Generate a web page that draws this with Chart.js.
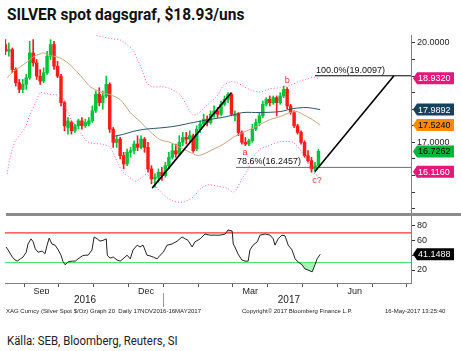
<!DOCTYPE html>
<html>
<head>
<meta charset="utf-8">
<script src="https://cdn.jsdelivr.net/npm/chart.js@4.4.1/dist/chart.umd.min.js"></script>
<style>
  body { margin: 0; background: #fff; width: 461px; height: 351px; overflow: hidden; position: relative; }
  #title { position: absolute; left: 7px; top: 4px; font: bold 17px "Roboto", sans-serif; color: #111; white-space: nowrap; transform: scaleX(0.91); transform-origin: 0 0; }
  #main { position: absolute; left: 0; top: 30px; }
  #sep { position: absolute; left: 6px; top: 213px; width: 455px; height: 3px; background: #8c8c8c; }
  #rsi { position: absolute; left: 0; top: 216px; }
  .foot { position: absolute; top: 308px; font: 6px "Liberation Sans", sans-serif; color: #222; white-space: pre; }
  #source { position: absolute; left: 7px; top: 332px; font: 13.5px "Roboto", sans-serif; color: #222; white-space: nowrap; transform: scaleX(0.845); transform-origin: 0 0; }
</style>
</head>
<body>
<div id="title">SILVER spot dagsgraf, $18.93/uns</div>
<canvas id="main" width="461" height="185"></canvas>
<div id="sep"></div>
<canvas id="rsi" width="461" height="96"></canvas>
<div class="foot" style="left:6px">XAG Curncy (Silver Spot $/Oz) Graph 20  Daily 17NOV2016-16MAY2017</div>
<div class="foot" style="left:242px">Copyright© 2017 Bloomberg Finance L.P.</div>
<div class="foot" style="left:385px">16-May-2017 13:25:40</div>
<div id="source">Källa: SEB, Bloomberg, Reuters, SI</div>
<script>
// x axis is in months, 0 = 1 Sep 2016
const xMin = -0.55;
const xMax = 11.12;
const monthCenters = [-0.5, 0.5, 1.5, 2.5, 3.5, 4.5, 5.5, 6.5, 7.5, 8.5, 9.5, 10.5];
const monthLabelPos = [0.5, 3.5, 6.5, 9.5];
const monthLabels = ["Sep", "Dec", "Mar", "Jun"];
const yearLabelPos = [1.75, 7.61];
const yearLabels = ["2016", "2017"];
const yearBreak = 4;

// daily candles (sampled every ~2 trading days)
const candleStart = -0.54;
const candleStep = 0.1;
const opens = [19.95, 19.75, 19.8, 19.2, 18.8, 18.6, 18.75, 18.95, 19.7, 19.4,
  19.0, 18.85, 19.1, 19.6, 19.95, 19.3, 19.0, 18.2, 17.45, 17.6,
  17.35, 17.5, 17.65, 17.5, 17.55, 17.65, 17.95, 18.45, 18.2, 18.4,
  18.75, 17.4, 17.0, 17.1, 16.6, 16.35, 16.7, 16.75, 16.95, 16.85,
  17.1, 16.85, 16.2, 15.9, 15.95, 16.1, 16.0, 16.3, 16.55, 16.75,
  16.65, 17.0, 17.15, 17.1, 17.2, 16.8, 17.4, 17.55, 17.7, 17.6,
  17.85, 17.95, 17.85, 18.15, 18.3, 18.45, 17.8, 17.85, 17.3, 17.0,
  16.95, 17.05, 17.4, 17.6, 17.8, 18.15, 18.3, 18.2, 18.35, 18.2,
  18.4, 18.6, 18.1, 17.9, 17.5, 17.3, 17.0, 16.6, 16.45, 16.2, 16.3];
const highs = [20.1, 20.0, 19.85, 19.25, 18.9, 18.9, 19.05, 20.05, 20.1, 19.5,
  19.2, 19.25, 19.75, 20.1, 20.05, 19.45, 19.05, 18.25, 17.75, 17.65,
  17.55, 17.7, 17.75, 17.7, 17.75, 18.1, 18.55, 18.65, 18.55, 19.0,
  18.8, 17.45, 17.2, 17.15, 16.7, 16.8, 16.85, 17.05, 17.2, 17.2,
  17.15, 17.0, 16.3, 16.05, 16.2, 16.25, 16.4, 16.7, 16.95, 16.95,
  17.2, 17.3, 17.3, 17.35, 17.25, 17.5, 17.65, 17.85, 17.8, 17.95,
  18.1, 18.05, 18.25, 18.4, 18.5, 18.5, 17.95, 17.9, 17.35, 17.15,
  17.1, 17.55, 17.7, 17.9, 18.25, 18.35, 18.4, 18.4, 18.4, 18.5,
  18.7, 18.65, 18.15, 17.95, 17.55, 17.35, 17.05, 16.75, 16.55, 16.4, 16.8];
const lows = [19.65, 19.6, 19.1, 18.7, 18.5, 18.5, 18.6, 18.9, 19.3, 18.9,
  18.75, 18.8, 19.05, 19.5, 19.2, 18.95, 18.1, 17.35, 17.25, 17.25,
  17.3, 17.4, 17.4, 17.45, 17.5, 17.6, 17.9, 18.1, 18.0, 18.35,
  17.3, 16.85, 16.85, 16.5, 16.2, 16.3, 16.55, 16.65, 16.75, 16.8,
  16.7, 16.1, 15.75, 15.65, 15.8, 15.85, 15.95, 16.2, 16.5, 16.55,
  16.6, 16.9, 16.95, 17.0, 16.7, 16.75, 17.3, 17.5, 17.5, 17.55,
  17.75, 17.75, 17.8, 18.1, 18.2, 17.8, 17.65, 17.2, 16.95, 16.9,
  16.9, 17.0, 17.35, 17.5, 17.75, 18.1, 18.1, 18.15, 17.8, 18.15,
  18.35, 18.0, 17.85, 17.45, 17.25, 16.95, 16.55, 16.4, 16.1, 16.1, 16.25];
const closes = [19.75, 19.8, 19.2, 18.8, 18.6, 18.75, 18.95, 19.7, 19.4, 19.0,
  18.85, 19.1, 19.6, 19.95, 19.3, 19.0, 18.2, 17.5, 17.65, 17.35,
  17.5, 17.65, 17.5, 17.6, 17.65, 17.95, 18.45, 18.2, 18.4, 18.75,
  17.4, 17.0, 17.1, 16.6, 16.35, 16.7, 16.75, 16.95, 16.85, 17.1,
  16.85, 16.2, 15.9, 15.95, 16.1, 16.0, 16.3, 16.55, 16.75, 16.65,
  17.0, 17.15, 17.1, 17.2, 16.75, 17.4, 17.55, 17.7, 17.6, 17.85,
  17.95, 17.85, 18.15, 18.3, 18.45, 17.85, 17.85, 17.3, 17.0, 16.95,
  17.05, 17.4, 17.6, 17.8, 18.15, 18.3, 18.2, 18.35, 18.2, 18.4,
  18.6, 18.1, 17.9, 17.5, 17.3, 17.0, 16.6, 16.45, 16.2, 16.3, 16.73];

// [month, value]
const bbUpper = [[2.08, 20.22], [2.27, 20.18], [2.56, 20.12], [2.76, 20.09], [2.96, 19.95], [3.13, 19.79],
  [3.25, 19.5], [3.33, 19.34], [3.42, 19.1], [3.53, 18.8], [3.68, 18.68], [3.97, 18.68], [4.2, 18.62],
  [4.48, 18.44], [4.68, 18.1], [4.83, 17.85], [4.97, 17.85], [5.14, 18.0], [5.34, 18.2], [5.55, 18.4],
  [5.72, 18.7], [5.92, 18.83], [6.12, 18.8], [6.29, 18.7], [6.49, 18.59], [6.78, 18.52], [7.07, 18.62],
  [7.36, 18.65], [7.64, 18.72], [7.93, 18.85], [8.16, 18.93], [8.3, 18.97], [8.45, 18.93]];
const bbLower = [[-0.49, 16.04], [-0.4, 16.55], [-0.26, 17.03], [-0.11, 17.24], [0.03, 17.45], [0.17, 17.84],
  [0.37, 18.29], [0.46, 18.5], [0.66, 18.47], [0.83, 18.44], [1.09, 18.4], [1.18, 18.08], [1.26, 17.9],
  [1.38, 17.63], [1.61, 17.3], [1.81, 17.03], [1.98, 16.97], [2.27, 16.94], [2.47, 16.85], [2.67, 16.43],
  [2.82, 16.13], [2.99, 15.98], [3.19, 15.83], [3.39, 15.95], [3.53, 16.04], [3.68, 15.83], [3.85, 15.59],
  [4.05, 15.38], [4.28, 15.23], [4.57, 15.2], [4.86, 15.35], [5.06, 15.59], [5.29, 15.72], [5.55, 15.68],
  [5.83, 15.62], [6.01, 15.5], [6.12, 15.62], [6.26, 15.9], [6.41, 16.13], [6.58, 16.55], [6.78, 16.79],
  [6.98, 16.88], [7.27, 17.0], [7.56, 17.03], [7.73, 17.0], [7.93, 16.79], [8.07, 16.55], [8.22, 16.25],
  [8.36, 16.04], [8.45, 16.0]];
const ma50 = [[-0.49, 18.95], [-0.32, 19.13], [-0.11, 19.28], [0.09, 19.43], [0.26, 19.58], [0.46, 19.67],
  [0.55, 19.7], [0.75, 19.62], [0.95, 19.58], [1.12, 19.5], [1.32, 19.34], [1.52, 19.13], [1.7, 18.92],
  [1.9, 18.68], [2.18, 18.53], [2.47, 18.44], [2.76, 18.29], [3.05, 17.9], [3.33, 17.63], [3.62, 17.33],
  [3.91, 17.08], [4.2, 17.0], [4.48, 16.85], [4.77, 16.7], [4.97, 16.61], [5.14, 16.64], [5.43, 16.79],
  [5.72, 16.94], [6.01, 17.15], [6.29, 17.3], [6.49, 17.39], [6.78, 17.54], [7.07, 17.69], [7.36, 17.78],
  [7.64, 17.9], [7.84, 17.93], [8.02, 17.84], [8.28, 17.69], [8.51, 17.52]];
const ma200 = [[2.56, 17.18], [2.84, 17.24], [3.13, 17.33], [3.42, 17.39], [3.71, 17.42], [4.05, 17.45],
  [4.4, 17.5], [4.86, 17.6], [5.34, 17.69], [5.83, 17.78], [6.29, 17.9], [6.78, 17.9], [7.36, 17.93],
  [7.73, 18.02], [8.13, 18.05], [8.51, 17.99]];
const trendUp = [[3.68, 15.62], [5.95, 18.5]];
const projection = [[8.36, 16.12], [10.63, 19.01]];
const fibLevels = [19.0097, 16.2457];
const fibStart = [8.36, 6.09];
const fibTexts = ["100.0%(19.0097)", "78.6%(16.2457)"];
const waveLabels = ["a", "b", "c?"];
const waveX = [6.35, 7.56, 8.42];
const waveY = [16.68, 18.88, 15.84];

const priceTicks = [15, 15.5, 16, 16.5, 17, 17.5, 18, 18.5, 19, 19.5, 20];
const priceAxisLabels = [20, 17];
const tagValues = [18.932, 17.9892, 17.524, 16.7262, 16.116];
const tagFill = ["#e5177b", "#17435a", "#ff8a00", "#00b43c", "#e5177b"];
const tagInk = ["#fff", "#fff", "#000", "#000", "#fff"];

const rsi = [[-0.52, 51], [-0.46, 47], [-0.34, 37.5], [-0.26, 33.5], [-0.2, 32], [-0.11, 35], [-0.03, 37.5],
  [0.06, 44], [0.11, 55], [0.2, 62], [0.26, 58], [0.32, 48.5], [0.4, 44], [0.52, 45.5], [0.6, 42],
  [0.66, 53.5], [0.72, 63], [0.8, 55], [0.89, 53.5], [0.98, 47], [1.06, 40], [1.12, 31], [1.18, 27],
  [1.26, 31], [1.38, 32], [1.47, 32], [1.55, 35], [1.67, 39], [1.75, 40], [1.84, 40], [1.95, 47],
  [2.01, 64.5], [2.1, 62], [2.18, 59], [2.27, 60], [2.36, 62], [2.39, 40], [2.47, 36], [2.56, 37.5],
  [2.67, 33.5], [2.76, 32], [2.84, 35], [2.96, 40], [3.05, 35], [3.13, 47], [3.25, 53.5], [3.33, 51],
  [3.42, 53.5], [3.53, 40], [3.62, 39], [3.71, 37.5], [3.82, 35], [3.91, 40], [4.0, 44], [4.11, 53.5],
  [4.25, 55], [4.4, 59], [4.54, 64.5], [4.63, 62], [4.71, 60], [4.83, 51], [4.91, 58], [5.06, 62],
  [5.2, 68.5], [5.34, 67], [5.49, 67], [5.63, 67], [5.78, 68.5], [5.86, 74], [5.98, 72.5], [6.01, 55],
  [6.06, 51], [6.15, 41.5], [6.26, 33.5], [6.35, 32], [6.44, 32], [6.49, 47], [6.58, 53.5], [6.7, 58],
  [6.78, 67], [6.93, 68.5], [7.07, 67], [7.16, 62], [7.21, 53.5], [7.3, 62], [7.41, 67], [7.5, 66],
  [7.59, 53.5], [7.7, 47], [7.79, 35], [7.87, 31], [7.99, 27], [8.07, 21.5], [8.16, 20], [8.28, 17.5],
  [8.36, 27], [8.42, 35], [8.51, 41.1488]];
const rsiHigh = 70;
const rsiLow = 30;
const rsiTicks = [20, 40, 60, 80];
const rsiAxisLabels = [20, 60, 80];
const rsiLast = 41.1488;

const FONT = '"Liberation Sans", Arial, sans-serif';
const pts = (arr) => arr.map(([x, y]) => ({ x, y }));

const candleTimes = closes.map((c, i) => candleStart + i * candleStep);
const candleColors = closes.map((c, i) => (c >= opens[i] ? "#00c43a" : "#ff1a1a"));
const bodies = closes.map((c, i) => ({ x: candleTimes[i], y: [opens[i], c] }));
const wicks = closes.map((c, i) => ({ x: candleTimes[i], y: [lows[i], highs[i]] }));

// stop the y scales from pushing the plot area in for their end labels
const noPad = (s) => { s.paddingTop = 0; s.paddingBottom = 0; s.width = 50; };

function drawTag(ctx, left, yc, text, bg, fg) {
  const h = 12;
  ctx.beginPath();
  ctx.moveTo(left, yc);
  ctx.lineTo(left + 4, yc - h / 2);
  ctx.lineTo(left + 41, yc - h / 2);
  ctx.lineTo(left + 41, yc + h / 2);
  ctx.lineTo(left + 4, yc + h / 2);
  ctx.closePath();
  ctx.fillStyle = bg;
  ctx.fill();
  ctx.fillStyle = fg;
  ctx.textAlign = "left";
  ctx.textBaseline = "middle";
  ctx.fillText(text, left + 5, yc + 0.5);
}

const mainOverlay = {
  id: "mainOverlay",
  afterDatasetsDraw(chart) {
    const { ctx } = chart;
    const x = chart.scales.x, y = chart.scales.y;
    ctx.save();
    ctx.font = "9px " + FONT;
    ctx.fillStyle = "#111";
    ctx.textAlign = "left";
    ctx.textBaseline = "bottom";
    fibTexts.forEach((t, i) => {
      ctx.fillText(t, x.getPixelForValue(fibStart[i]) + 1, y.getPixelForValue(fibLevels[i]) - 1);
    });
    ctx.fillStyle = "#ff3030";
    ctx.textAlign = "center";
    ctx.textBaseline = "middle";
    waveLabels.forEach((t, i) => {
      ctx.fillText(t, x.getPixelForValue(waveX[i]), y.getPixelForValue(waveY[i]));
    });
    ctx.restore();
  },
  afterDraw(chart) {
    const { ctx, chartArea } = chart;
    const y = chart.scales.y;
    ctx.save();
    ctx.font = "9px " + FONT;
    tagValues.forEach((v, i) => {
      drawTag(ctx, chartArea.right + 2, y.getPixelForValue(v), v.toFixed(4), tagFill[i], tagInk[i]);
    });
    ctx.restore();
  },
};

const rsiOverlay = {
  id: "rsiOverlay",
  afterDraw(chart) {
    const { ctx, chartArea } = chart;
    const y = chart.scales.y, x = chart.scales.x, x2 = chart.scales.x2;
    ctx.save();
    ctx.font = "9px " + FONT;
    drawTag(ctx, chartArea.right + 2, y.getPixelForValue(rsiLast), rsiLast.toFixed(4), "#000", "#fff");
    const bx = Math.round(x.getPixelForValue(yearBreak)) + 0.5;
    ctx.strokeStyle = "#999";
    ctx.lineWidth = 1;
    ctx.beginPath();
    ctx.moveTo(bx, x2.top - 1);
    ctx.lineTo(bx, x2.top + 13);
    ctx.stroke();
    ctx.restore();
  },
};

const lineDefaults = { type: "line", pointRadius: 0, borderWidth: 1, fill: false };

new Chart(document.getElementById("main"), {
  type: "bar",
  data: {
    datasets: [
      { ...lineDefaults, data: pts(trendUp), borderColor: "#000", borderWidth: 1.6, order: 0 },
      { ...lineDefaults, data: pts(projection), borderColor: "#000", borderWidth: 1.6, order: 0 },
      { ...lineDefaults, data: [{ x: fibStart[0], y: fibLevels[0] }, { x: xMax, y: fibLevels[0] }], borderColor: "#000", order: 0 },
      { ...lineDefaults, data: [{ x: fibStart[1], y: fibLevels[1] }, { x: xMax, y: fibLevels[1] }], borderColor: "#6e6e6e", order: 0 },
      { ...lineDefaults, data: pts(ma200), borderColor: "#2b5668", tension: 0.3, order: 1 },
      { ...lineDefaults, data: pts(ma50), borderColor: "#c9a47e", tension: 0.3, order: 1 },
      { ...lineDefaults, data: pts(bbUpper), borderColor: "#ff5aa5", borderDash: [1, 2], tension: 0.3, order: 1 },
      { ...lineDefaults, data: pts(bbLower), borderColor: "#ff5aa5", borderDash: [1, 2], tension: 0.3, order: 1 },
      { type: "bar", data: bodies, backgroundColor: candleColors, barThickness: 2.8, grouped: false, order: 5 },
      { type: "bar", data: wicks, backgroundColor: candleColors, barThickness: 1, grouped: false, order: 6 },
    ],
  },
  options: {
    responsive: false,
    animation: false,
    devicePixelRatio: 1,
    layout: { padding: { left: 5, top: 5, bottom: 3, right: 0 } },
    plugins: { legend: { display: false }, tooltip: { enabled: false } },
    scales: {
      x: { type: "linear", min: xMin, max: xMax, offset: false, display: false },
      y: {
        position: "right",
        min: 14.9,
        max: 20.24,
        afterFit: noPad,
        afterBuildTicks: (s) => { s.ticks = priceTicks.map((v) => ({ value: v })); },
        ticks: {
          autoSkip: false,
          padding: 2,
          color: "#222",
          font: { size: 9, family: FONT },
          callback: (v) => (priceAxisLabels.includes(v) ? v.toFixed(4) : ""),
        },
        grid: { drawOnChartArea: false, drawTicks: true, tickLength: 4, color: "#333" },
        border: { display: true, color: "#808080" },
      },
    },
  },
  plugins: [mainOverlay],
});

new Chart(document.getElementById("rsi"), {
  type: "line",
  data: {
    datasets: [
      { ...lineDefaults, data: pts(rsi), borderWidth: 0, fill: { target: { value: rsiHigh }, above: "rgba(255,160,180,0.7)", below: "rgba(0,0,0,0)" }, order: 3 },
      { ...lineDefaults, data: pts(rsi), borderWidth: 0, fill: { target: { value: rsiLow }, above: "rgba(0,0,0,0)", below: "rgba(140,240,160,0.75)" }, order: 3 },
      { ...lineDefaults, data: [{ x: xMin, y: rsiHigh }, { x: xMax, y: rsiHigh }], borderColor: "#ff0000", order: 2 },
      { ...lineDefaults, data: [{ x: xMin, y: rsiLow }, { x: xMax, y: rsiLow }], borderColor: "#3fe06c", order: 2 },
      { ...lineDefaults, data: pts(rsi), borderColor: "#222", order: 0 },
    ],
  },
  options: {
    responsive: false,
    animation: false,
    devicePixelRatio: 1,
    layout: { padding: { left: 5, top: 0, bottom: 1, right: 0 } },
    plugins: { legend: { display: false }, tooltip: { enabled: false } },
    scales: {
      x: {
        type: "linear", position: "bottom", min: xMin, max: xMax, offset: false,
        afterBuildTicks: (s) => { s.ticks = monthCenters.map((v) => ({ value: v })); },
        afterFit: (s) => { s.height = 11; s.paddingLeft = 0; s.paddingRight = 0; },
        ticks: {
          autoSkip: false, maxRotation: 0, padding: -1, color: "#222",
          font: { size: 9, family: FONT },
          callback: (v) => {
            const k = monthLabelPos.indexOf(v);
            return k >= 0 ? monthLabels[k] : "";
          },
        },
        grid: { offset: true, drawOnChartArea: false, drawTicks: true, tickLength: 4, color: "#555" },
        border: { display: true, color: "#808080" },
      },
      x2: {
        type: "linear", position: "bottom", min: xMin, max: xMax, offset: false,
        afterBuildTicks: (s) => { s.ticks = yearLabelPos.map((v) => ({ value: v })); },
        afterFit: (s) => { s.height = 17; s.paddingLeft = 0; s.paddingRight = 0; },
        ticks: {
          autoSkip: false, maxRotation: 0, padding: 0, color: "#222",
          font: { size: 10, family: FONT },
          callback: (v) => yearLabels[yearLabelPos.indexOf(v)],
        },
        grid: { display: false, drawTicks: false },
        border: { display: false },
      },
      y: {
        position: "right",
        min: 2.5,
        max: 92.8,
        afterFit: noPad,
        afterBuildTicks: (s) => { s.ticks = rsiTicks.map((v) => ({ value: v })); },
        ticks: {
          autoSkip: false, padding: 2, color: "#222",
          font: { size: 9, family: FONT },
          callback: (v) => (rsiAxisLabels.includes(v) ? String(v) : ""),
        },
        grid: { drawOnChartArea: false, drawTicks: true, tickLength: 4, color: "#333" },
        border: { display: true, color: "#808080" },
      },
    },
  },
  plugins: [rsiOverlay],
});
</script>
</body>
</html>
